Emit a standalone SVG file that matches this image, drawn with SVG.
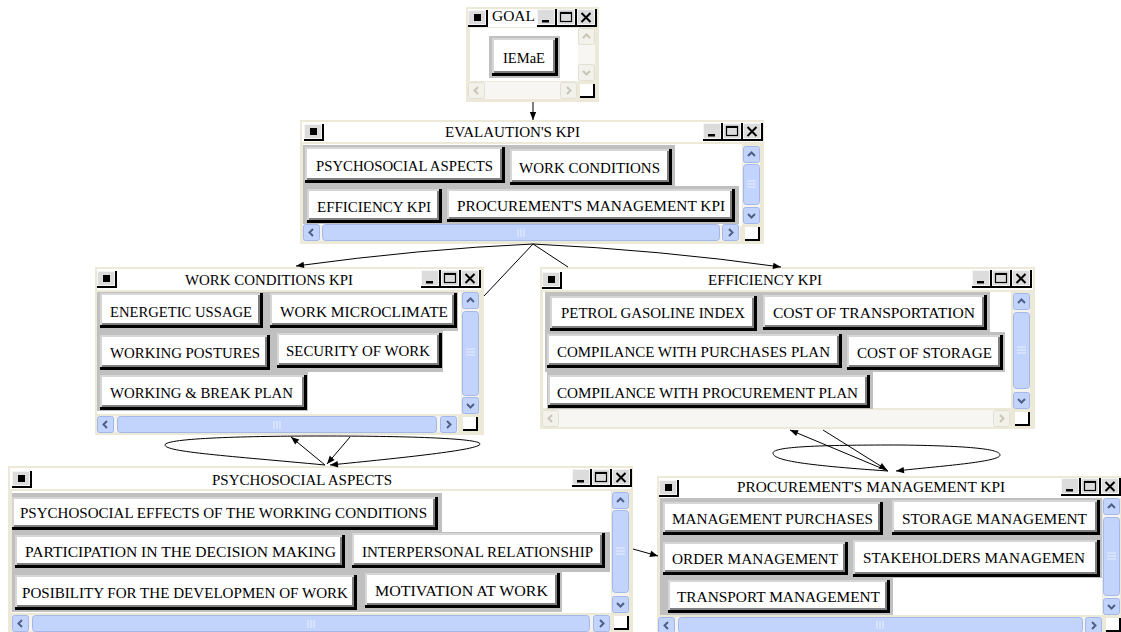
<svg xmlns="http://www.w3.org/2000/svg" xmlns:xlink="http://www.w3.org/1999/xlink" width="1121" height="632" viewBox="0 0 1121 632">
<style>
.frame{fill:#ece9d8}
.tb{fill:#fff}
.cont{fill:#fff}
.band{fill:#c0c0c0}
.b0{fill:#000}.b1{fill:#d6d6d6}.b2{fill:#808080}.b3{fill:#fff}
.t{font-family:"Liberation Serif","Times New Roman",serif;font-size:15px;fill:#000}
.trk{fill:#f4f3ee}
.sb{fill:#c3d4fc;stroke:#a3b8e8;stroke-width:1}
.chev{fill:none;stroke:#4d6185;stroke-width:2}
.dtrk{fill:#f7f6f2}
.dsb{fill:#f2f1ea;stroke:#e2dfd3;stroke-width:1}
.dchev{fill:none;stroke:#c8c6b8;stroke-width:2}
.grip{fill:#000}
.edge{fill:none;stroke:#000;stroke-width:1}
</style>
<defs>
<marker id="ah" viewBox="0 0 10 10" refX="10" refY="5" markerWidth="9" markerHeight="8" orient="auto" markerUnits="userSpaceOnUse"><path d="M0,1 L10,5 L0,9 z" fill="#000"/></marker>
<symbol id="caps" viewBox="0 0 60 18" width="60" height="18">
<rect x="0" y="0" width="60" height="18" fill="#000"/>
<rect x="0" y="0" width="18" height="16" fill="#f4f4f4"/><rect x="1" y="1" width="16" height="14" fill="#dcdcdc"/>
<rect x="20" y="0" width="18" height="16" fill="#f4f4f4"/><rect x="21" y="1" width="16" height="14" fill="#dcdcdc"/>
<rect x="40" y="0" width="18" height="16" fill="#f4f4f4"/><rect x="41" y="1" width="16" height="14" fill="#dcdcdc"/>
<rect x="5" y="11" width="7" height="2.5" fill="#000"/>
<rect x="23.5" y="3.5" width="11" height="9" fill="none" stroke="#000" stroke-width="1.2"/><rect x="23" y="3" width="12" height="2" fill="#000"/>
<path d="M44.5,4 L53.5,13 M53.5,4 L44.5,13" stroke="#000" stroke-width="2"/>
</symbol>
<symbol id="icon" viewBox="0 0 20 17" width="20" height="17">
<rect x="0" y="0" width="20" height="17" fill="#000"/><rect x="0" y="0" width="18" height="15" fill="#f4f4f4"/><rect x="1" y="1" width="16" height="13" fill="#dcdcdc"/><rect x="6" y="4" width="7" height="7" fill="#000"/>
</symbol>
<symbol id="up" viewBox="0 0 17 17" width="17" height="17"><rect x="0.5" y="0.5" width="16" height="16" rx="2" class="sb"/><polyline points="5,10 8.5,6.5 12,10" class="chev"/></symbol>
<symbol id="dn" viewBox="0 0 17 17" width="17" height="17"><rect x="0.5" y="0.5" width="16" height="16" rx="2" class="sb"/><polyline points="5,7 8.5,10.5 12,7" class="chev"/></symbol>
<symbol id="lt" viewBox="0 0 17 17" width="17" height="17"><rect x="0.5" y="0.5" width="16" height="16" rx="2" class="sb"/><polyline points="10,5 6.5,8.5 10,12" class="chev"/></symbol>
<symbol id="rt" viewBox="0 0 17 17" width="17" height="17"><rect x="0.5" y="0.5" width="16" height="16" rx="2" class="sb"/><polyline points="7,5 10.5,8.5 7,12" class="chev"/></symbol>
<symbol id="upd" viewBox="0 0 17 17" width="17" height="17"><rect x="0.5" y="0.5" width="16" height="16" rx="2" class="dsb"/><polyline points="5,10 8.5,6.5 12,10" class="dchev"/></symbol>
<symbol id="dnd" viewBox="0 0 17 17" width="17" height="17"><rect x="0.5" y="0.5" width="16" height="16" rx="2" class="dsb"/><polyline points="5,7 8.5,10.5 12,7" class="dchev"/></symbol>
<symbol id="ltd" viewBox="0 0 17 17" width="17" height="17"><rect x="0.5" y="0.5" width="16" height="16" rx="2" class="dsb"/><polyline points="10,5 6.5,8.5 10,12" class="dchev"/></symbol>
<symbol id="rtd" viewBox="0 0 17 17" width="17" height="17"><rect x="0.5" y="0.5" width="16" height="16" rx="2" class="dsb"/><polyline points="7,5 10.5,8.5 7,12" class="dchev"/></symbol>
<symbol id="grip" viewBox="0 0 15 14" width="15" height="14"><rect x="0" y="0" width="15" height="14" fill="#000"/><rect x="0" y="0" width="13" height="12" fill="#fff"/></symbol>
</defs>

<!-- GOAL -->
<g id="goal">
<rect class="frame" x="466" y="7" width="133" height="95"/>
<rect class="tb" x="468" y="9" width="129" height="18"/>
<use href="#icon" x="468" y="10"/>
<text class="t" x="492" y="21" font-size="13" textLength="43" lengthAdjust="spacingAndGlyphs">GOAL</text>
<use href="#caps" x="537" y="9"/>
<rect class="cont" x="470" y="28" width="108" height="53"/>
<rect class="band" x="489" y="36" width="71" height="42"/>
<rect class="b0" x="492" y="38" width="66" height="38"/><rect class="b1" x="492" y="38" width="63" height="35"/><rect class="b2" x="494" y="40" width="61" height="33"/><rect class="b3" x="494" y="40" width="59" height="31"/>
<text class="t" x="503" y="63" textLength="42" lengthAdjust="spacingAndGlyphs">IEMaE</text>
<rect class="dtrk" x="578" y="28" width="17" height="53"/>
<use href="#upd" x="578" y="28"/><use href="#dnd" x="578" y="64"/>
<rect class="dtrk" x="468" y="82" width="109" height="17"/>
<use href="#ltd" x="468" y="82"/><use href="#rtd" x="560" y="82"/>
<use href="#grip" x="580" y="84"/>
</g>

<!-- EVALUATION -->
<g id="evaluation">
<rect class="frame" x="300" y="120" width="464" height="124"/>
<rect class="tb" x="302" y="122" width="460" height="20"/>
<use href="#icon" x="304" y="124"/>
<text class="t" x="445" y="137" textLength="135" lengthAdjust="spacingAndGlyphs">EVALAUTION'S KPI</text>
<use href="#caps" x="703" y="123"/>
<rect class="cont" x="303" y="144" width="439" height="82"/>
<rect class="band" x="303" y="145" width="372" height="41"/>
<rect class="band" x="303" y="186" width="436" height="38"/>
<rect class="b0" x="305" y="147" width="200" height="36"/><rect class="b1" x="305" y="147" width="197" height="33"/><rect class="b2" x="307" y="149" width="195" height="31"/><rect class="b3" x="307" y="149" width="193" height="29"/>
<text class="t" x="316" y="171" textLength="177" lengthAdjust="spacingAndGlyphs">PSYCHOSOCIAL ASPECTS</text>
<rect class="b0" x="510" y="149" width="162" height="36"/><rect class="b1" x="510" y="149" width="159" height="33"/><rect class="b2" x="512" y="151" width="157" height="31"/><rect class="b3" x="512" y="151" width="155" height="29"/>
<text class="t" x="519" y="173" textLength="141" lengthAdjust="spacingAndGlyphs">WORK CONDITIONS</text>
<rect class="b0" x="307" y="189" width="135" height="34"/><rect class="b1" x="307" y="189" width="132" height="31"/><rect class="b2" x="309" y="191" width="130" height="29"/><rect class="b3" x="309" y="191" width="128" height="27"/>
<text class="t" x="317" y="212" textLength="114" lengthAdjust="spacingAndGlyphs">EFFICIENCY KPI</text>
<rect class="b0" x="447" y="189" width="288" height="33"/><rect class="b1" x="447" y="189" width="285" height="30"/><rect class="b2" x="449" y="191" width="283" height="28"/><rect class="b3" x="449" y="191" width="281" height="26"/>
<text class="t" x="457" y="211" textLength="268" lengthAdjust="spacingAndGlyphs">PROCUREMENT'S MANAGEMENT KPI</text>
<rect class="trk" x="743" y="146" width="17" height="78"/>
<use href="#up" x="743" y="146"/><rect class="sb" x="743.5" y="164.5" width="16" height="40" rx="3"/><path d="M747,181 h9 M747,184 h9 M747,187 h9" stroke="#e8eeff" stroke-width="1"/><use href="#dn" x="743" y="207"/>
<rect class="trk" x="303" y="225" width="437" height="16"/>
<use href="#lt" x="303" y="224"/><rect class="sb" x="322.5" y="224.5" width="397" height="16" rx="3"/><path d="M518,229 v8 M521,229 v8 M524,229 v8" stroke="#e8eeff" stroke-width="1"/><use href="#rt" x="722" y="224"/>
<use href="#grip" x="745" y="227"/>
</g>

<!-- WORK CONDITIONS KPI -->
<g id="work-conditions">
<rect class="frame" x="95" y="267" width="389" height="168"/>
<rect class="tb" x="97" y="269" width="384" height="21"/>
<use href="#icon" x="97" y="271"/>
<text class="t" x="185" y="285" textLength="168" lengthAdjust="spacingAndGlyphs">WORK CONDITIONS KPI</text>
<use href="#caps" x="421" y="270"/>
<rect class="cont" x="97" y="292" width="364" height="122"/>
<rect class="band" x="97" y="292" width="361" height="39"/>
<rect class="band" x="97" y="331" width="346" height="41"/>
<rect class="band" x="97" y="372" width="211" height="39"/>
<rect class="b0" x="100" y="293" width="163" height="35"/><rect class="b1" x="100" y="293" width="160" height="32"/><rect class="b2" x="102" y="295" width="158" height="30"/><rect class="b3" x="102" y="295" width="156" height="28"/>
<text class="t" x="110" y="317" textLength="142" lengthAdjust="spacingAndGlyphs">ENERGETIC USSAGE</text>
<rect class="b0" x="270" y="293" width="187" height="35"/><rect class="b1" x="270" y="293" width="184" height="32"/><rect class="b2" x="272" y="295" width="182" height="30"/><rect class="b3" x="272" y="295" width="180" height="28"/>
<text class="t" x="280" y="317" textLength="168" lengthAdjust="spacingAndGlyphs">WORK MICROCLIMATE</text>
<rect class="b0" x="100" y="335" width="170" height="35"/><rect class="b1" x="100" y="335" width="167" height="32"/><rect class="b2" x="102" y="337" width="165" height="30"/><rect class="b3" x="102" y="337" width="163" height="28"/>
<text class="t" x="110" y="358" textLength="150" lengthAdjust="spacingAndGlyphs">WORKING POSTURES</text>
<rect class="b0" x="277" y="333" width="165" height="35"/><rect class="b1" x="277" y="333" width="162" height="32"/><rect class="b2" x="279" y="335" width="160" height="30"/><rect class="b3" x="279" y="335" width="158" height="28"/>
<text class="t" x="286" y="356" textLength="144" lengthAdjust="spacingAndGlyphs">SECURITY OF WORK</text>
<rect class="b0" x="100" y="375" width="207" height="35"/><rect class="b1" x="100" y="375" width="204" height="32"/><rect class="b2" x="102" y="377" width="202" height="30"/><rect class="b3" x="102" y="377" width="200" height="28"/>
<text class="t" x="110" y="398" textLength="183" lengthAdjust="spacingAndGlyphs">WORKING &amp; BREAK PLAN</text>
<rect class="trk" x="462" y="292" width="17" height="121"/>
<use href="#up" x="462" y="292"/><rect class="sb" x="462.5" y="311.5" width="16" height="84" rx="3"/><path d="M466,349 h9 M466,352 h9 M466,355 h9" stroke="#e8eeff" stroke-width="1"/><use href="#dn" x="462" y="397"/>
<rect class="trk" x="97" y="416" width="361" height="16"/>
<use href="#lt" x="97" y="416"/><rect class="sb" x="117.5" y="416.5" width="319" height="16" rx="3"/><path d="M274,421 v8 M277,421 v8 M280,421 v8" stroke="#e8eeff" stroke-width="1"/><use href="#rt" x="440" y="416"/>
<use href="#grip" x="463" y="417"/>
</g>

<!-- EFFICIENCY KPI -->
<g id="efficiency">
<rect class="frame" x="540" y="267" width="495" height="162"/>
<rect class="tb" x="542" y="269" width="491" height="21"/>
<use href="#icon" x="542" y="272"/>
<text class="t" x="708" y="285" textLength="114" lengthAdjust="spacingAndGlyphs">EFFICIENCY KPI</text>
<use href="#caps" x="972" y="270"/>
<rect class="cont" x="543" y="292" width="468" height="116"/>
<rect class="band" x="545" y="292" width="445" height="40"/>
<rect class="band" x="545" y="332" width="460" height="40"/>
<rect class="band" x="547" y="372" width="326" height="37"/>
<rect class="b0" x="550" y="296" width="207" height="35"/><rect class="b1" x="550" y="296" width="204" height="32"/><rect class="b2" x="552" y="298" width="202" height="30"/><rect class="b3" x="552" y="298" width="200" height="28"/>
<text class="t" x="561" y="318" textLength="184" lengthAdjust="spacingAndGlyphs">PETROL GASOLINE INDEX</text>
<rect class="b0" x="763" y="295" width="224" height="35"/><rect class="b1" x="763" y="295" width="221" height="32"/><rect class="b2" x="765" y="297" width="219" height="30"/><rect class="b3" x="765" y="297" width="217" height="28"/>
<text class="t" x="773" y="318" textLength="202" lengthAdjust="spacingAndGlyphs">COST OF TRANSPORTATION</text>
<rect class="b0" x="547" y="334" width="295" height="34"/><rect class="b1" x="547" y="334" width="292" height="31"/><rect class="b2" x="549" y="336" width="290" height="29"/><rect class="b3" x="549" y="336" width="288" height="27"/>
<text class="t" x="557" y="357" textLength="273" lengthAdjust="spacingAndGlyphs">COMPILANCE WITH PURCHASES PLAN</text>
<rect class="b0" x="847" y="335" width="156" height="35"/><rect class="b1" x="847" y="335" width="153" height="32"/><rect class="b2" x="849" y="337" width="151" height="30"/><rect class="b3" x="849" y="337" width="149" height="28"/>
<text class="t" x="857" y="358" textLength="135" lengthAdjust="spacingAndGlyphs">COST OF STORAGE</text>
<rect class="b0" x="548" y="375" width="322" height="33"/><rect class="b1" x="548" y="375" width="319" height="30"/><rect class="b2" x="550" y="377" width="317" height="28"/><rect class="b3" x="550" y="377" width="315" height="26"/>
<text class="t" x="557" y="398" textLength="301" lengthAdjust="spacingAndGlyphs">COMPILANCE WITH PROCUREMENT PLAN</text>
<rect class="trk" x="1013" y="293" width="17" height="115"/>
<use href="#up" x="1013" y="293"/><rect class="sb" x="1013.5" y="312.5" width="16" height="76" rx="3"/><path d="M1017,347 h9 M1017,350 h9 M1017,353 h9" stroke="#e8eeff" stroke-width="1"/><use href="#dn" x="1013" y="392"/>
<rect class="dtrk" x="542" y="410" width="468" height="17"/>
<use href="#ltd" x="542" y="410"/><use href="#rtd" x="993" y="410"/>
<use href="#grip" x="1015" y="412"/>
</g>

<!-- PSYCHOSOCIAL ASPECTS -->
<g id="psychosocial">
<rect class="frame" x="8" y="466" width="625" height="166"/>
<rect class="tb" x="10" y="468" width="621" height="21"/>
<use href="#icon" x="12" y="471"/>
<text class="t" x="212" y="485" textLength="180" lengthAdjust="spacingAndGlyphs">PSYCHOSOCIAL ASPECTS</text>
<use href="#caps" x="572" y="469"/>
<rect class="cont" x="12" y="491" width="599" height="122"/>
<rect class="band" x="12" y="493" width="430" height="40"/>
<rect class="band" x="12" y="532" width="598" height="40"/>
<rect class="band" x="12" y="572" width="550" height="40"/>
<rect class="b0" x="12" y="497" width="426" height="33"/><rect class="b1" x="12" y="497" width="423" height="30"/><rect class="b2" x="14" y="499" width="421" height="28"/><rect class="b3" x="14" y="499" width="419" height="26"/>
<text class="t" x="20" y="518" textLength="407" lengthAdjust="spacingAndGlyphs">PSYCHOSOCIAL EFFECTS OF THE WORKING CONDITIONS</text>
<rect class="b0" x="15" y="535" width="330" height="33"/><rect class="b1" x="15" y="535" width="327" height="30"/><rect class="b2" x="17" y="537" width="325" height="28"/><rect class="b3" x="17" y="537" width="323" height="26"/>
<text class="t" x="25" y="557" textLength="311" lengthAdjust="spacingAndGlyphs">PARTICIPATION IN THE DECISION MAKING</text>
<rect class="b0" x="352" y="533" width="253" height="35"/><rect class="b1" x="352" y="533" width="250" height="32"/><rect class="b2" x="354" y="535" width="248" height="30"/><rect class="b3" x="354" y="535" width="246" height="28"/>
<text class="t" x="362" y="557" textLength="231" lengthAdjust="spacingAndGlyphs">INTERPERSONAL RELATIONSHIP</text>
<rect class="b0" x="15" y="575" width="342" height="35"/><rect class="b1" x="15" y="575" width="339" height="32"/><rect class="b2" x="17" y="577" width="337" height="30"/><rect class="b3" x="17" y="577" width="335" height="28"/>
<text class="t" x="22" y="598" textLength="326" lengthAdjust="spacingAndGlyphs">POSIBILITY FOR THE DEVELOPMEN OF WORK</text>
<rect class="b0" x="365" y="573" width="195" height="35"/><rect class="b1" x="365" y="573" width="192" height="32"/><rect class="b2" x="367" y="575" width="190" height="30"/><rect class="b3" x="367" y="575" width="188" height="28"/>
<text class="t" x="375" y="596" textLength="173" lengthAdjust="spacingAndGlyphs">MOTIVATION AT WORK</text>
<rect class="trk" x="612" y="492" width="17" height="120"/>
<use href="#up" x="612" y="492"/><rect class="sb" x="612.5" y="510.5" width="16" height="82" rx="3"/><path d="M616,548 h9 M616,551 h9 M616,554 h9" stroke="#e8eeff" stroke-width="1"/><use href="#dn" x="612" y="596"/>
<rect class="trk" x="12" y="615" width="598" height="16"/>
<use href="#lt" x="12" y="615"/><rect class="sb" x="32.5" y="615.5" width="557" height="16" rx="3"/><path d="M308,620 v8 M311,620 v8 M314,620 v8" stroke="#e8eeff" stroke-width="1"/><use href="#rt" x="593" y="615"/>
<use href="#grip" x="614" y="616"/>
</g>

<!-- PROCUREMENT'S MANAGEMENT KPI -->
<g id="procurement">
<rect class="frame" x="657" y="476" width="464" height="156"/>
<rect class="tb" x="659" y="478" width="462" height="20"/>
<use href="#icon" x="659" y="480"/>
<text class="t" x="737" y="492" textLength="268" lengthAdjust="spacingAndGlyphs">PROCUREMENT'S MANAGEMENT KPI</text>
<use href="#caps" x="1061" y="478"/>
<rect class="cont" x="660" y="498" width="442" height="117"/>
<rect class="band" x="660" y="498" width="442" height="40"/>
<rect class="band" x="660" y="538" width="442" height="40"/>
<rect class="band" x="660" y="578" width="233" height="37"/>
<rect class="b0" x="663" y="502" width="220" height="33"/><rect class="b1" x="663" y="502" width="217" height="30"/><rect class="b2" x="665" y="504" width="215" height="28"/><rect class="b3" x="665" y="504" width="213" height="26"/>
<text class="t" x="672" y="524" textLength="201" lengthAdjust="spacingAndGlyphs">MANAGEMENT PURCHASES</text>
<rect class="b0" x="892" y="500" width="208" height="35"/><rect class="b1" x="892" y="500" width="205" height="32"/><rect class="b2" x="894" y="502" width="203" height="30"/><rect class="b3" x="894" y="502" width="201" height="28"/>
<text class="t" x="902" y="524" textLength="185" lengthAdjust="spacingAndGlyphs">STORAGE MANAGEMENT</text>
<rect class="b0" x="663" y="542" width="185" height="33"/><rect class="b1" x="663" y="542" width="182" height="30"/><rect class="b2" x="665" y="544" width="180" height="28"/><rect class="b3" x="665" y="544" width="178" height="26"/>
<text class="t" x="672" y="564" textLength="166" lengthAdjust="spacingAndGlyphs">ORDER MANAGEMENT</text>
<rect class="b0" x="853" y="540" width="247" height="37"/><rect class="b1" x="853" y="540" width="244" height="34"/><rect class="b2" x="855" y="542" width="242" height="32"/><rect class="b3" x="855" y="542" width="240" height="30"/>
<text class="t" x="863" y="563" textLength="222" lengthAdjust="spacingAndGlyphs">STAKEHOLDERS MANAGEMEN</text>
<rect class="b0" x="668" y="580" width="222" height="33"/><rect class="b1" x="668" y="580" width="219" height="30"/><rect class="b2" x="670" y="582" width="217" height="28"/><rect class="b3" x="670" y="582" width="215" height="26"/>
<text class="t" x="677" y="602" textLength="203" lengthAdjust="spacingAndGlyphs">TRANSPORT MANAGEMENT</text>
<rect class="trk" x="1103" y="498" width="17" height="117"/>
<use href="#up" x="1103" y="498"/><rect class="sb" x="1103.5" y="517.5" width="16" height="78" rx="3"/><path d="M1107,553 h9 M1107,556 h9 M1107,559 h9" stroke="#e8eeff" stroke-width="1"/><use href="#dn" x="1103" y="598"/>
<rect class="trk" x="658" y="617" width="444" height="15"/>
<use href="#lt" x="658" y="617"/><rect class="sb" x="678.5" y="617.5" width="404" height="15" rx="3"/><path d="M877,621 v8 M880,621 v8 M883,621 v8" stroke="#e8eeff" stroke-width="1"/><use href="#rt" x="1085" y="617"/>
<use href="#grip" x="1106" y="618"/>
</g>

<!-- connectors -->
<g id="connectors">
<path class="edge" d="M533,102 L533,120" marker-end="url(#ah)"/>
<path class="edge" d="M533,244 Q420,249 296,266" marker-end="url(#ah)"/>
<path class="edge" d="M533,244 L484,296"/>
<path class="edge" d="M533,244 L568,267"/>
<path class="edge" d="M533,244 Q660,250 781,267" marker-end="url(#ah)"/>
<path class="edge" d="M325,465 C230,456 165,452 165,445 C165,438 250,436 322,436 C400,436 480,438 480,444 C480,450 400,458 330,465" marker-end="url(#ah)"/>
<path class="edge" d="M325,465 L291,437" marker-end="url(#ah)"/>
<path class="edge" d="M350,437 L327,464" marker-end="url(#ah)"/>
<path class="edge" d="M888,471 C800,465 773,460 773,453 C773,446 830,445 900,445 C980,446 1000,450 1000,455 C1000,462 940,466 896,471" marker-end="url(#ah)"/>
<path class="edge" d="M888,471 L790,430" marker-end="url(#ah)"/>
<path class="edge" d="M823,430 L887,470" marker-end="url(#ah)"/>
<path class="edge" d="M633,549 L658,556" marker-end="url(#ah)"/>
</g>
</svg>
